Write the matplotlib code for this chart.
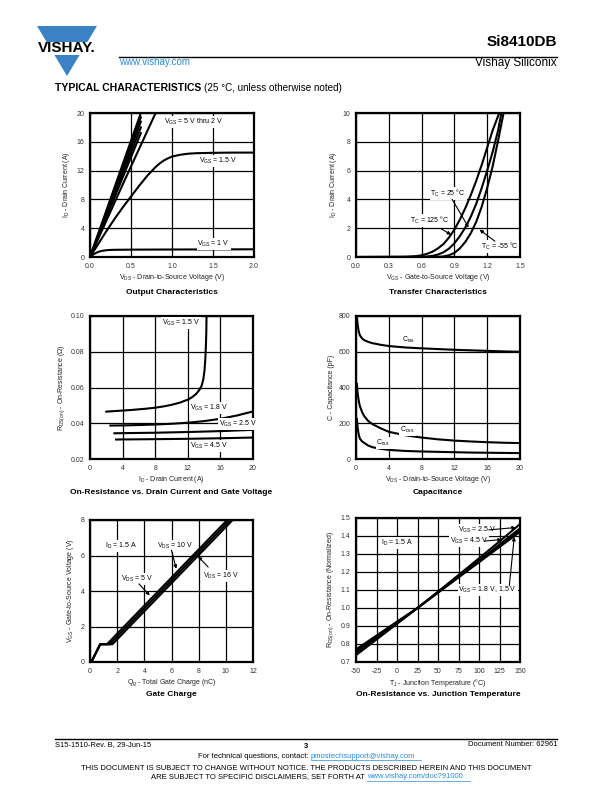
import matplotlib
matplotlib.use('Agg')
import matplotlib.pyplot as plt
from matplotlib.patches import Polygon, Rectangle

plt.rcParams['font.family'] = ['Liberation Sans', 'DejaVu Sans']
plt.rcParams['mathtext.default'] = 'regular'

# ---------------- data ----------------
# Output characteristics (VDS in V, ID in A); VGS 5 V thru 2 V are nearly straight
out_bundle_x = [0, 0.3, 0.62]
out_bundle = {
    '5 V':   [0, 9.7, 20.0],
    '4 V':   [0, 9.4, 19.4],
    '3.5 V': [0, 9.1, 18.8],
    '3 V':   [0, 8.7, 18.0],
    '2.5 V': [0, 8.3, 17.2],
}
out_2_x = [0, 0.4, 0.8]
out_2_y = [0, 10.1, 20.0]
out_15_x = [0, 0.1, 0.2, 0.3, 0.4, 0.5, 0.6, 0.65, 0.7, 0.75, 0.8, 0.85, 0.9, 0.95, 1.0,
            1.1, 1.2, 1.3, 1.5, 1.75, 2.0]
out_15_y = [0, 1.8, 3.6, 5.3, 6.9, 8.4, 9.9, 10.6, 11.3, 11.9, 12.5, 13.0, 13.4, 13.7, 13.95,
            14.2, 14.35, 14.42, 14.47, 14.5, 14.5]
out_1_x = [0, 0.025, 0.05, 0.075, 0.1, 0.125, 0.15, 0.2, 0.25, 0.3, 0.5, 1.0, 2.0]
out_1_y = [0, 0.22, 0.42, 0.58, 0.7, 0.79, 0.86, 0.94, 0.98, 1.0, 1.02, 1.04, 1.07]

# Transfer characteristics (VGS in V, ID in A)
tr_125_x = [0, 0.45, 0.5, 0.55, 0.6, 0.65, 0.7, 0.75, 0.8, 0.85, 0.9, 0.95, 1.0, 1.05, 1.1,
            1.15, 1.2, 1.25, 1.31]
tr_125_y = [0, 0.01, 0.03, 0.06, 0.12, 0.22, 0.37, 0.6, 0.9, 1.35, 1.9, 2.6, 3.4, 4.3, 5.3,
            6.4, 7.6, 8.8, 10]
tr_25_x = [0, 0.6, 0.65, 0.7, 0.75, 0.8, 0.85, 0.9, 0.95, 1.0, 1.05, 1.1, 1.15, 1.2, 1.25,
           1.3, 1.33]
tr_25_y = [0, 0.01, 0.03, 0.08, 0.17, 0.33, 0.58, 0.95, 1.45, 2.05, 2.8, 3.7, 4.8, 6.0, 7.3,
           8.8, 10]
tr_m55_x = [0, 0.75, 0.8, 0.85, 0.9, 0.95, 1.0, 1.05, 1.1, 1.15, 1.2, 1.25, 1.3, 1.35]
tr_m55_y = [0, 0.01, 0.04, 0.12, 0.28, 0.6, 1.05, 1.65, 2.45, 3.5, 4.8, 6.3, 8.1, 10]

# On-resistance vs drain current (ID in A, RDS in ohm)
ron_15_x = [2, 3, 4, 5, 6, 7, 8, 9, 10, 11, 12, 12.5, 13, 13.4, 13.7, 13.9, 14.05, 14.15,
            14.22, 14.27, 14.3]
ron_15_y = [0.0465, 0.0468, 0.0471, 0.0474, 0.0478, 0.0482, 0.0487, 0.0494, 0.0503, 0.0515,
            0.0532, 0.0545, 0.0563, 0.0585, 0.061, 0.0645, 0.0695, 0.076, 0.083, 0.091, 0.1]
ron_18_x = [2.5, 4, 6, 8, 10, 12, 14, 16, 18, 20]
ron_18_y = [0.0387, 0.0388, 0.039, 0.0393, 0.0397, 0.0403, 0.0412, 0.0425, 0.0443, 0.0466]
ron_25_x = [3.0, 8, 12, 16, 20]
ron_25_y = [0.0344, 0.0347, 0.0351, 0.0356, 0.0363]
ron_45_x = [3.2, 8, 12, 16, 20]
ron_45_y = [0.0309, 0.0311, 0.0313, 0.0316, 0.032]

# Capacitance (VDS in V, C in pF)
cap_x = [0.1, 0.2, 0.3, 0.4, 0.5, 0.75, 1, 1.5, 2, 3, 4, 6, 8, 10, 12, 14, 16, 18, 20]
ciss = [800, 755, 722, 702, 690, 674, 665, 655, 648, 639, 632, 624, 619, 615, 611, 608, 605,
        602, 600]
coss = [420, 370, 335, 310, 292, 262, 240, 212, 195, 172, 152, 133, 120, 110, 103, 98, 94,
        91, 89]
crss = [225, 175, 145, 125, 112, 98, 90, 75, 66, 57, 51, 45, 42, 40, 38, 36, 35, 34, 33]

# Gate charge (Qg in nC, VGS in V)
gc_5_x = [0.1, 0.75, 1.25, 10.1]
gc_10_x = [0.1, 0.75, 1.45, 10.3]
gc_16_x = [0.1, 0.75, 1.65, 10.5]
gc_y = [0, 1.0, 1.0, 8.0]

# On-resistance vs junction temperature (TJ in C, normalized)
tj_x = [-50, -25, 0, 25, 50, 75, 100, 125, 150]
rn_25 = [0.738, 0.825, 0.912, 1.0, 1.091, 1.183, 1.276, 1.37, 1.466]
rn_45 = [0.750, 0.834, 0.917, 1.0, 1.088, 1.176, 1.264, 1.353, 1.442]
rn_18 = [0.770, 0.847, 0.924, 1.0, 1.085, 1.17, 1.254, 1.339, 1.423]
rn_15 = [0.762, 0.841, 0.921, 1.0, 1.086, 1.172, 1.258, 1.345, 1.432]

# ---------------- figure ----------------
W, H = 612, 792
fig = plt.figure(figsize=(W / 100, H / 100), dpi=100)
bg = fig.add_axes([0, 0, 1, 1])
bg.set_xlim(0, W)
bg.set_ylim(H, 0)
bg.axis('off')

BLUE = '#3b82c4'
LINK = '#2a8ad8'


def px_axes(l, t, r, b):
    return fig.add_axes([l / W, 1 - b / H, (r - l) / W, (b - t) / H])


def style(ax, xlim, ylim, xt, yt, xfmt, yfmt, xlabel, ylabel, title, title_y):
    ax.set_xlim(*xlim)
    ax.set_ylim(*ylim)
    ax.set_xticks(xt)
    ax.set_yticks(yt)
    ax.set_xticklabels([xfmt % v for v in xt])
    ax.set_yticklabels([yfmt % v for v in yt])
    ax.grid(True, color='k', lw=0.9)
    ax.set_axisbelow(True)
    for s in ax.spines.values():
        s.set_linewidth(1.6)
    ax.tick_params(length=0, pad=4, labelsize=5, labelcolor='#333333')
    ax.set_xlabel(xlabel, fontsize=5, labelpad=2, color='#222222')
    ax.set_ylabel(ylabel, fontsize=5, labelpad=3, color='#222222')
    pos = ax.get_position()
    bg.text((pos.x0 + pos.width / 2) * W, title_y, title, fontsize=6, fontweight='bold',
            ha='center', va='center')


def label(ax, x, y, s, ha='left'):
    ax.text(x, y, s, fontsize=5, ha=ha, va='center', zorder=5,
            bbox=dict(facecolor='white', edgecolor='none', pad=0.6))


def arrow(ax, xy, xytext):
    ax.annotate('', xy=xy, xytext=xytext, zorder=6,
                arrowprops=dict(arrowstyle='-|>', color='k', lw=0.8, mutation_scale=5,
                                shrinkA=0, shrinkB=0))


LW = 1.5

# 1. Output characteristics
ax1 = px_axes(90, 113, 254, 257)
for key, ys in out_bundle.items():
    ax1.plot(out_bundle_x, ys, color='k', lw=LW)
ax1.plot(out_2_x, out_2_y, color='k', lw=LW)
ax1.plot(out_15_x, out_15_y, color='k', lw=LW)
ax1.plot(out_1_x, out_1_y, color='k', lw=LW)
label(ax1, 0.9, 18.8, 'V$_{GS}$ = 5 V thru 2 V')
label(ax1, 1.33, 13.3, 'V$_{GS}$ = 1.5 V')
label(ax1, 1.31, 1.8, 'V$_{GS}$ = 1 V')
style(ax1, (0, 2), (0, 20), [0, 0.5, 1.0, 1.5, 2.0], [0, 4, 8, 12, 16, 20], '%.1f', '%d',
      'V$_{DS}$ - Drain-to-Source Voltage (V)', 'I$_D$ - Drain Current (A)',
      'Output Characteristics', 292)

# 2. Transfer characteristics
ax2 = px_axes(356, 113, 520, 257)
ax2.plot(tr_125_x, tr_125_y, color='k', lw=LW)
ax2.plot(tr_25_x, tr_25_y, color='k', lw=LW)
ax2.plot(tr_m55_x, tr_m55_y, color='k', lw=LW)
label(ax2, 0.68, 4.4, 'T$_C$ = 25 °C')
arrow(ax2, (1.03, 2.05), (0.88, 4.0))
label(ax2, 0.49, 2.55, 'T$_C$ = 125 °C')
arrow(ax2, (0.87, 1.55), (0.78, 1.95))
label(ax2, 1.14, 0.75, 'T$_C$ = -55 °C')
arrow(ax2, (1.13, 1.9), (1.27, 1.1))
style(ax2, (0, 1.5), (0, 10), [0, 0.3, 0.6, 0.9, 1.2, 1.5], [0, 2, 4, 6, 8, 10], '%.1f', '%d',
      'V$_{GS}$ - Gate-to-Source Voltage (V)', 'I$_D$ - Drain Current (A)',
      'Transfer Characteristics', 292)

# 3. On-resistance vs drain current
ax3 = px_axes(90, 316, 253, 459)
ax3.plot(ron_15_x, ron_15_y, color='k', lw=LW)
ax3.plot(ron_18_x, ron_18_y, color='k', lw=LW)
ax3.plot(ron_25_x, ron_25_y, color='k', lw=LW)
ax3.plot(ron_45_x, ron_45_y, color='k', lw=LW)
label(ax3, 8.8, 0.0962, 'V$_{GS}$ = 1.5 V')
label(ax3, 12.3, 0.0485, 'V$_{GS}$ = 1.8 V')
label(ax3, 15.8, 0.0397, 'V$_{GS}$ = 2.5 V')
label(ax3, 12.3, 0.0275, 'V$_{GS}$ = 4.5 V')
style(ax3, (0, 20), (0.02, 0.10), [0, 4, 8, 12, 16, 20], [0.02, 0.04, 0.06, 0.08, 0.10],
      '%d', '%.2f', 'I$_D$ - Drain Current (A)', 'R$_{DS(on)}$ - On-Resistance (Ω)',
      'On-Resistance vs. Drain Current and Gate Voltage', 493)

# 4. Capacitance
ax4 = px_axes(356, 316, 520, 459)
ax4.plot(cap_x, ciss, color='k', lw=LW)
ax4.plot(cap_x, coss, color='k', lw=LW)
ax4.plot(cap_x, crss, color='k', lw=LW)
label(ax4, 5.6, 665, 'C$_{iss}$')
label(ax4, 5.4, 162, 'C$_{oss}$')
label(ax4, 2.5, 90, 'C$_{rss}$')
style(ax4, (0, 20), (0, 800), [0, 4, 8, 12, 16, 20], [0, 200, 400, 600, 800], '%d', '%d',
      'V$_{DS}$ - Drain-to-Source Voltage (V)', 'C - Capacitance (pF)',
      'Capacitance', 493)

# 5. Gate charge
ax5 = px_axes(90, 520, 253, 662)
ax5.plot(gc_5_x, gc_y, color='k', lw=LW)
ax5.plot(gc_10_x, gc_y, color='k', lw=LW)
ax5.plot(gc_16_x, gc_y, color='k', lw=LW)
label(ax5, 1.1, 6.55, 'I$_D$ = 1.5 A')
label(ax5, 4.9, 6.55, 'V$_{DS}$ = 10 V')
arrow(ax5, (6.35, 5.25), (6.0, 6.3))
label(ax5, 2.3, 4.7, 'V$_{DS}$ = 5 V')
arrow(ax5, (4.4, 3.75), (3.6, 4.4))
label(ax5, 8.3, 4.85, 'V$_{DS}$ = 16 V')
arrow(ax5, (7.95, 5.95), (8.7, 5.35))
style(ax5, (0, 12), (0, 8), [0, 2, 4, 6, 8, 10, 12], [0, 2, 4, 6, 8], '%d', '%d',
      'Q$_g$ - Total Gate Charge (nC)', 'V$_{GS}$ - Gate-to-Source Voltage (V)',
      'Gate Charge', 695)

# 6. On-resistance vs junction temperature
ax6 = px_axes(356, 518, 520, 662)
ax6.plot(tj_x, rn_25, color='k', lw=LW)
ax6.plot(tj_x, rn_45, color='k', lw=LW)
ax6.plot(tj_x, rn_18, color='k', lw=LW)
ax6.plot(tj_x, rn_15, color='k', lw=LW)
label(ax6, -19, 1.36, 'I$_D$ = 1.5 A')
label(ax6, 74, 1.434, 'V$_{GS}$ = 2.5 V')
arrow(ax6, (145, 1.447), (112, 1.434))
label(ax6, 65, 1.372, 'V$_{GS}$ = 4.5 V')
arrow(ax6, (128, 1.38), (107, 1.372))
label(ax6, 75, 1.10, 'V$_{GS}$ = 1.8 V, 1.5 V')
arrow(ax6, (143, 1.395), (137, 1.125))
style(ax6, (-50, 150), (0.7, 1.5), [-50, -25, 0, 25, 50, 75, 100, 125, 150],
      [0.7, 0.8, 0.9, 1.0, 1.1, 1.2, 1.3, 1.4, 1.5], '%d', '%.1f',
      'T$_J$ - Junction Temperature (°C)', 'R$_{DS(on)}$ - On-Resistance (Normalized)',
      'On-Resistance vs. Junction Temperature', 695)

# ---------------- header ----------------
bg.add_patch(Polygon([(37, 26), (97, 26), (67, 76)], closed=True, facecolor=BLUE,
                     edgecolor='none'))
bg.add_patch(Rectangle((34, 41.5), 66, 13.5, facecolor='white', edgecolor='none'))
bg.text(67, 48.5, 'VISHAY.', fontsize=11, fontweight='bold', ha='center', va='center')
bg.plot([119, 557], [57, 57], color='k', lw=1.0)
bg.text(557, 49, 'Si8410DB', fontsize=11, fontweight='bold', ha='right', va='bottom')
bg.text(557, 63, 'Vishay Siliconix', fontsize=8.5, ha='right', va='center')
bg.text(119, 62, 'www.vishay.com', fontsize=7, color=LINK, ha='left', va='center')
bg.text(55, 88, 'TYPICAL CHARACTERISTICS', fontsize=7.45, fontweight='bold',
        ha='left', va='center')
bg.text(204, 88, '(25 °C, unless otherwise noted)', fontsize=7.1, ha='left', va='center')

# ---------------- footer ----------------
bg.plot([55, 557], [739, 739], color='k', lw=1.0)
bg.text(55, 745, 'S15-1510-Rev. B, 29-Jun-15', fontsize=5.5, ha='left', va='center')
bg.text(306, 746, '3', fontsize=5.5, fontweight='bold', ha='center', va='center')
bg.text(557, 745, 'Document Number: 62961', fontsize=5.5, ha='right', va='center')
bg.text(311, 756, 'For technical questions, contact: ', fontsize=5.5, ha='right', va='center')
bg.text(311, 756, 'pmostechsupport@vishay.com', fontsize=5.5, ha='left', va='center',
        color=LINK)
bg.plot([311, 421], [760, 760], color=LINK, lw=0.5)
bg.text(306, 768, 'THIS DOCUMENT IS SUBJECT TO CHANGE WITHOUT NOTICE. THE PRODUCTS DESCRIBED '
        'HEREIN AND THIS DOCUMENT', fontsize=5.5, ha='center', va='center')
bg.text(367, 777, 'ARE SUBJECT TO SPECIFIC DISCLAIMERS, SET FORTH AT ', fontsize=5.5,
        ha='right', va='center')
bg.text(367, 777, 'www.vishay.com/doc?91000', fontsize=5.5, ha='left', va='center',
        color=LINK)
bg.plot([367, 470], [781, 781], color=LINK, lw=0.5)

fig.savefig('out.png', dpi=100)
